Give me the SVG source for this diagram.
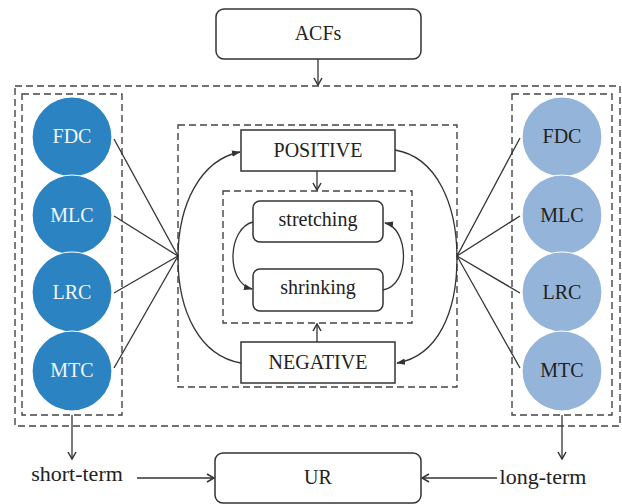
<svg xmlns="http://www.w3.org/2000/svg" width="622" height="504" viewBox="0 0 622 504">
<defs>
<style>
.t{font-family:"Liberation Serif","Times New Roman",serif;font-size:20px;fill:#222;text-anchor:middle}
.tw{fill:#f2f4f8}
.big{font-size:22px}
.box{fill:#fff;stroke:#333;stroke-width:1.5}
.dash{fill:none;stroke:#444;stroke-width:1.4;stroke-dasharray:7 4}
.ln{fill:none;stroke:#333;stroke-width:1.3}
.cl{fill:#2b83c1;stroke:#fff;stroke-width:1.2}
.cr{fill:#94b4da;stroke:#fff;stroke-width:1.2}
</style>
<marker id="chev" viewBox="0 0 10 10" refX="9" refY="5" markerWidth="10" markerHeight="10" markerUnits="userSpaceOnUse" orient="auto">
<path d="M2,1 L9,5 L2,9" fill="none" stroke="#333" stroke-width="1.5"/>
</marker>
<marker id="tri" viewBox="0 0 10 10" refX="9" refY="5" markerWidth="9" markerHeight="9" markerUnits="userSpaceOnUse" orient="auto">
<path d="M0,1.5 L10,5 L0,8.5 Z" fill="#333"/>
</marker>
</defs>
<rect width="622" height="504" fill="#fff"/>

<g id="frames">
<rect class="dash" x="15" y="86" width="605" height="340"/>
<rect class="dash" x="22" y="94" width="100" height="321"/>
<rect class="dash" x="512" y="94" width="100" height="321"/>
<rect class="dash" x="178" y="125" width="279" height="262"/>
<rect class="dash" x="223" y="191" width="189" height="132"/>
</g>

<g id="connectors">
<line class="ln" x1="318" y1="59" x2="318" y2="85" marker-end="url(#chev)"/>
<line class="ln" x1="317" y1="171" x2="317" y2="190" marker-end="url(#chev)"/>
<line class="ln" x1="317" y1="342" x2="317" y2="324" marker-end="url(#chev)"/>
<path class="ln" d="M241,363 C200,356 178,312 178,258 C178,205 200,160 240,152" marker-end="url(#tri)"/>
<path class="ln" d="M395,150 C437,157 457,205 457,258 C457,312 438,356 397,363" marker-end="url(#tri)"/>
<path class="ln" d="M253,222 C228,228 225,282 252,289" marker-end="url(#tri)"/>
<path class="ln" d="M383,290 C411,285 409,228 385,223" marker-end="url(#tri)"/>
<line class="ln" x1="114" y1="139" x2="178" y2="256"/>
<line class="ln" x1="114" y1="216" x2="178" y2="256"/>
<line class="ln" x1="114" y1="293" x2="178" y2="256"/>
<line class="ln" x1="114" y1="368" x2="178" y2="256"/>
<line class="ln" x1="520" y1="138" x2="457" y2="256"/>
<line class="ln" x1="520" y1="216" x2="457" y2="256"/>
<line class="ln" x1="520" y1="293" x2="457" y2="256"/>
<line class="ln" x1="520" y1="368" x2="457" y2="256"/>
<line class="ln" x1="72" y1="415" x2="72" y2="459" marker-end="url(#chev)"/>
<line class="ln" x1="562" y1="415" x2="562" y2="459" marker-end="url(#chev)"/>
<line class="ln" x1="137" y1="478" x2="214" y2="478" marker-end="url(#chev)"/>
<line class="ln" x1="497" y1="478" x2="422" y2="478" marker-end="url(#chev)"/>
</g>

<g id="acfs"><rect class="box" x="216" y="9" width="205" height="50" rx="8"/><text class="t" x="318" y="40">ACFs</text></g>
<g id="positive"><rect class="box" x="241" y="130" width="154" height="41"/><text class="t" x="318" y="157">POSITIVE</text></g>
<g id="stretching"><rect class="box" x="253" y="201" width="130" height="41" rx="7"/><text class="t" x="318" y="226">stretching</text></g>
<g id="shrinking"><rect class="box" x="253" y="269" width="130" height="42" rx="7"/><text class="t" x="318" y="294">shrinking</text></g>
<g id="negative"><rect class="box" x="241" y="342" width="154" height="41"/><text class="t" x="318" y="369">NEGATIVE</text></g>
<g id="ur"><rect class="box" x="215" y="453" width="206" height="50" rx="8"/><text class="t" x="318" y="484">UR</text></g>

<g id="fdc-l"><circle class="cl" cx="72" cy="137" r="40"/><text class="t tw" x="72" y="143">FDC</text></g>
<g id="mlc-l"><circle class="cl" cx="72" cy="215" r="40"/><text class="t tw" x="72" y="222">MLC</text></g>
<g id="lrc-l"><circle class="cl" cx="72" cy="292" r="40"/><text class="t tw" x="72" y="299">LRC</text></g>
<g id="mtc-l"><circle class="cl" cx="72" cy="371" r="40"/><text class="t tw" x="72" y="377">MTC</text></g>

<g id="fdc-r"><circle class="cr" cx="562" cy="137" r="40"/><text class="t" x="562" y="143">FDC</text></g>
<g id="mlc-r"><circle class="cr" cx="562" cy="215" r="40"/><text class="t" x="562" y="222">MLC</text></g>
<g id="lrc-r"><circle class="cr" cx="562" cy="292" r="40"/><text class="t" x="562" y="299">LRC</text></g>
<g id="mtc-r"><circle class="cr" cx="562" cy="371" r="40"/><text class="t" x="562" y="377">MTC</text></g>

<g id="short-term"><text class="t big" x="77" y="481">short-term</text></g>
<g id="long-term"><text class="t big" x="543" y="484">long-term</text></g>
</svg>
